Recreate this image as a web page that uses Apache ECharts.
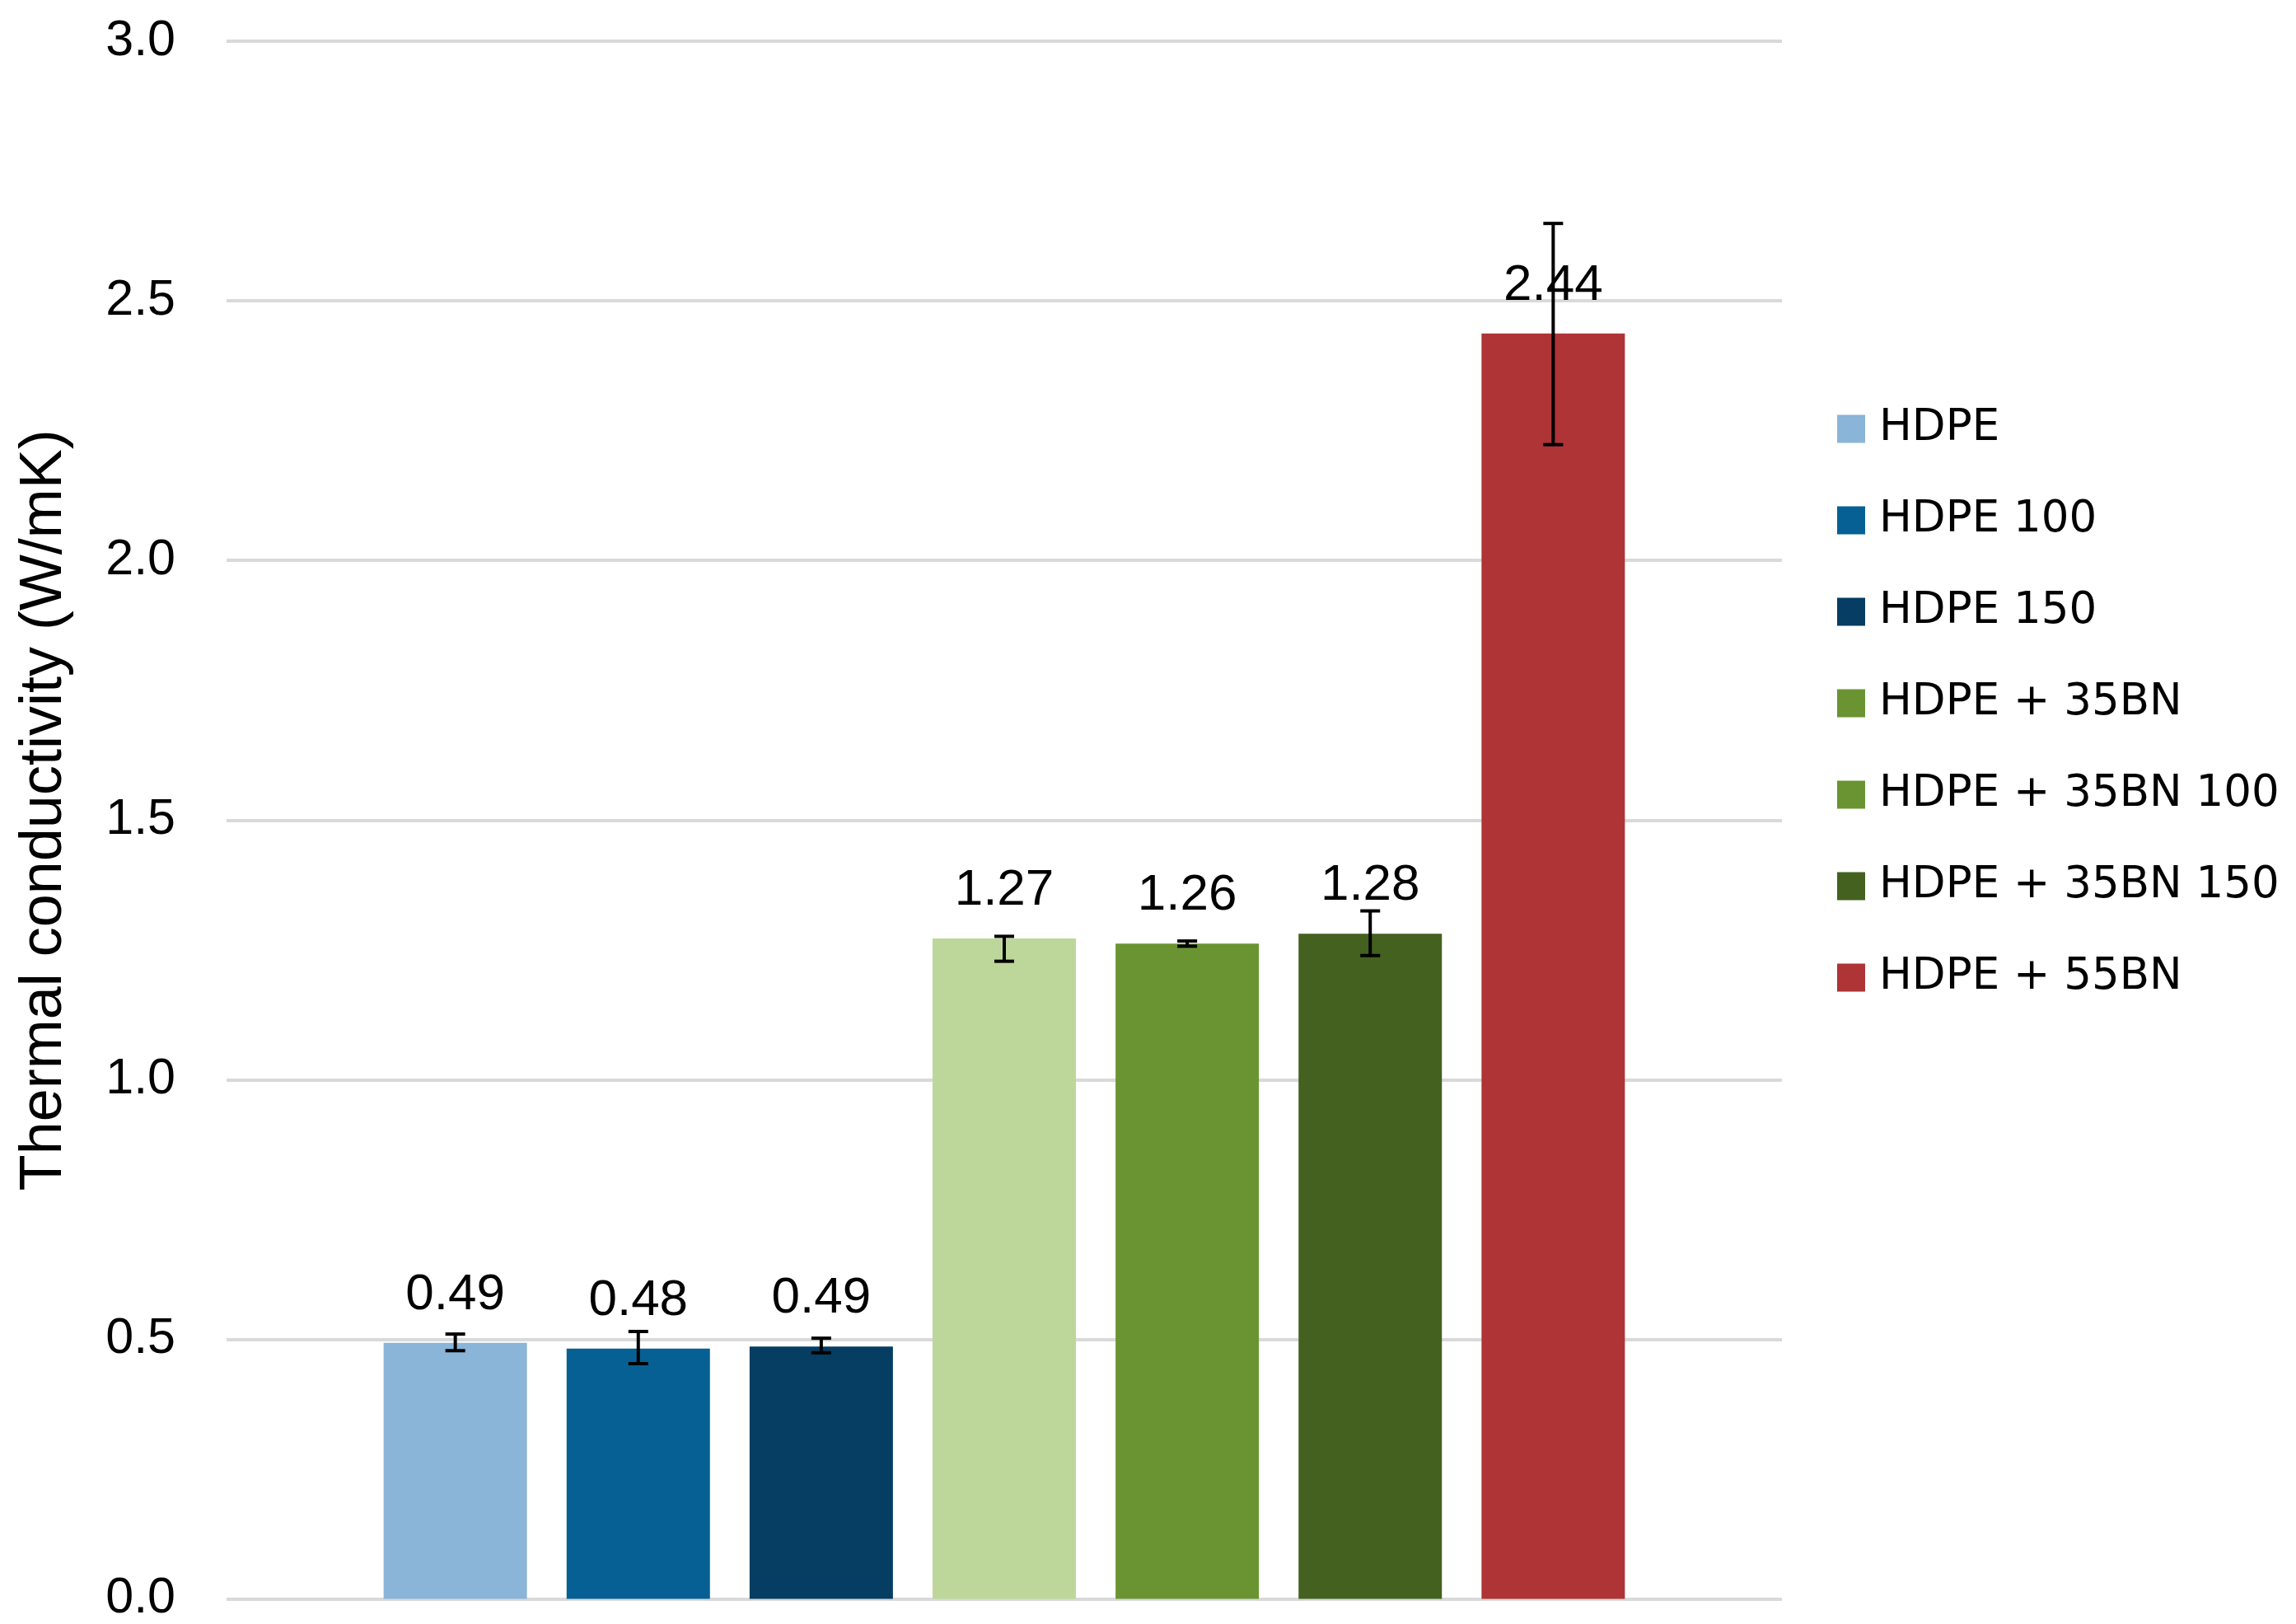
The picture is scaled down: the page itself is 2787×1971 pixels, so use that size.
<!DOCTYPE html>
<html>
<head>
<meta charset="utf-8">
<script src="https://cdn.jsdelivr.net/npm/echarts@6/dist/echarts.min.js"></script>
<style>
html,body{margin:0;padding:0;background:#fff;}
#chart{width:2787px;height:1971px;}
</style>
</head>
<body>
<div id="chart"></div>
<script>
// ---- data ----
const categories = ['HDPE','HDPE 100','HDPE 150','HDPE + 35BN','HDPE + 35BN 100','HDPE + 35BN 150','HDPE + 55BN'];
const values     = [0.493, 0.482, 0.486, 1.272, 1.262, 1.281, 2.437];
const errLow     = [0.478, 0.453, 0.474, 1.228, 1.257, 1.239, 2.223];
const errHigh    = [0.510, 0.515, 0.502, 1.276, 1.267, 1.325, 2.649];
const seriesColors = ['#8AB4D8','#076094','#063D62','#6A9432','#6A9432','#44611F','#AE3436'];
const barColors    = ['#8AB4D8','#076094','#063D62','#BDD79A','#6A9432','#44611F','#AE3436'];
const yTicks = [0, 0.5, 1.0, 1.5, 2.0, 2.5, 3.0];
const yTitle = 'Thermal conductivity (W/mK)';

const chart = echarts.init(document.getElementById('chart'));

const barSeries = categories.map((name, i) => ({
  name: name,
  type: 'bar',
  barWidth: 174,
  barGap: '-100%',
  itemStyle: { color: seriesColors[i] },
  label: {
    show: true,
    position: 'top',
    distance: 27,
    formatter: p => p.value[1].toFixed(2),
    fontFamily: 'Liberation Sans',
    fontSize: 62,
    color: '#000'
  },
  data: [{ value: [i + 1, values[i]], itemStyle: { color: barColors[i] } }],
  z: 2
}));

const errSeries = {
  type: 'custom',
  name: 'error',
  z: 5,
  renderItem: function (params, api) {
    const x = api.value(0);
    const lo = api.coord([x, api.value(1)]);
    const hi = api.coord([x, api.value(2)]);
    const hw = 12;
    const st = { stroke: '#000', lineWidth: 4 };
    return {
      type: 'group',
      children: [
        { type: 'line', shape: { x1: lo[0], y1: lo[1], x2: hi[0], y2: hi[1] }, style: st },
        { type: 'line', shape: { x1: lo[0] - hw, y1: lo[1], x2: lo[0] + hw, y2: lo[1] }, style: st },
        { type: 'line', shape: { x1: hi[0] - hw, y1: hi[1], x2: hi[0] + hw, y2: hi[1] }, style: st }
      ]
    };
  },
  encode: { x: 0, y: [1, 2] },
  data: categories.map((c, i) => [i + 1, errLow[i], errHigh[i]])
};

chart.setOption({
  animation: false,
  backgroundColor: '#fff',
  grid: { left: 275, right: 624, top: 50, bottom: 30, containLabel: false },
  legend: {
    data: categories,
    orient: 'vertical',
    left: 2225,
    top: 489,
    icon: 'rect',
    itemWidth: 34,
    itemHeight: 34,
    itemGap: 58,
    textStyle: {
      fontFamily: 'DejaVu Sans',
      fontSize: 53,
      lineHeight: 52,
      color: '#000',
      padding: [0, 0, 0, 12]
    }
  },
  xAxis: {
    type: 'value',
    min: -0.25,
    max: 8.25,
    show: false
  },
  yAxis: {
    type: 'value',
    min: yTicks[0],
    max: yTicks[yTicks.length - 1],
    interval: 0.5,
    name: yTitle,
    nameLocation: 'middle',
    nameGap: 185,
    nameTextStyle: { fontFamily: 'Liberation Sans', fontSize: 72, color: '#000', padding: [0, 0, 0, 24] },
    axisLine: { show: false },
    axisTick: { show: false },
    axisLabel: {
      margin: 62,
      fontFamily: 'Liberation Sans',
      fontSize: 61,
      color: '#000',
      formatter: v => v.toFixed(1)
    },
    splitLine: { show: true, lineStyle: { color: '#D9D9D9', width: 4 } }
  },
  series: barSeries.concat([errSeries])
});
</script>
</body>
</html>
